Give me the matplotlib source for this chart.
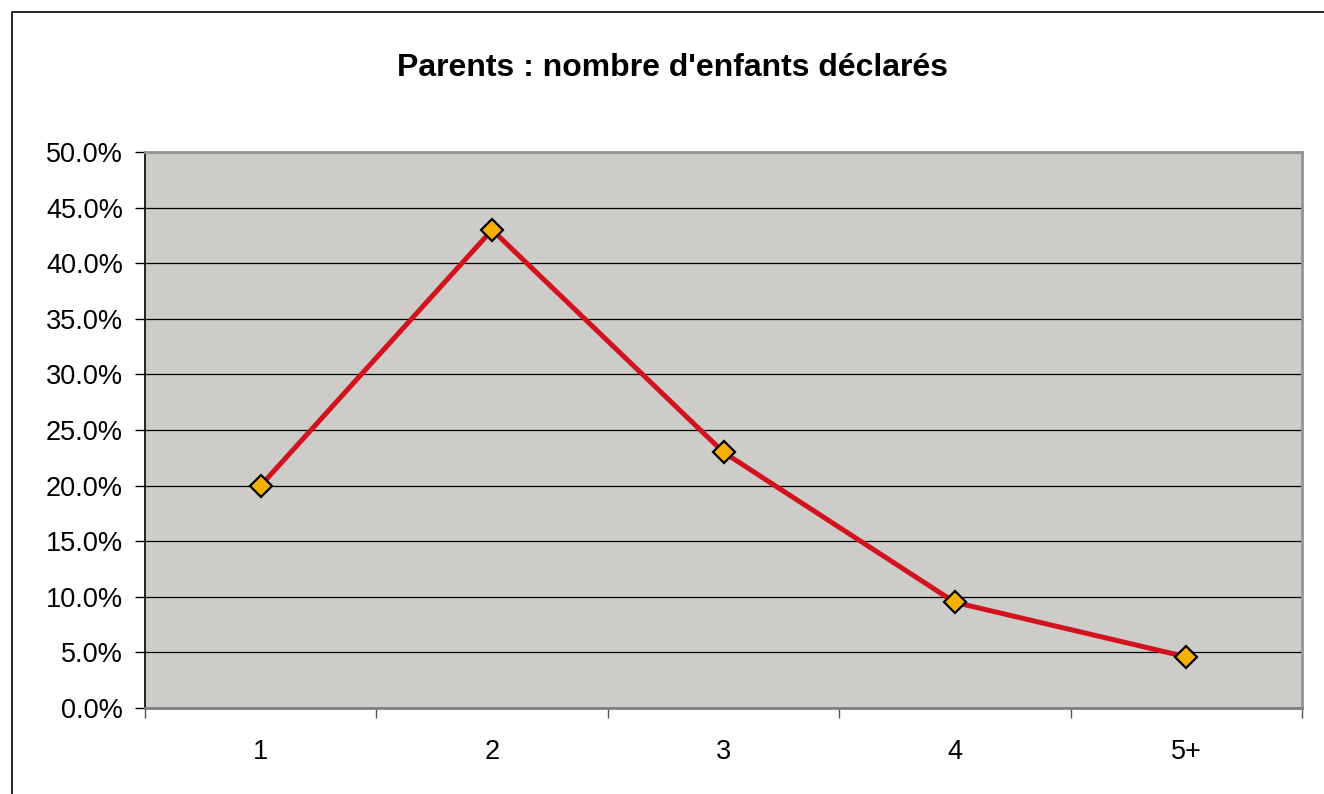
import matplotlib
matplotlib.use("Agg")
import matplotlib.pyplot as plt
from matplotlib.patches import Rectangle
from matplotlib.ticker import FuncFormatter, FixedLocator

categories = ["1", "2", "3", "4", "5+"]
values = [20.0, 43.0, 23.0, 9.5, 4.6]
title = "Parents : nombre d'enfants déclarés"

plt.rcParams['font.family'] = ['Liberation Sans', 'DejaVu Sans']

fig = plt.figure(figsize=(13.24, 7.94), dpi=100)
fig.patch.set_facecolor('white')

# outer chart border
W, H = 1324, 794
fig.patches.append(Rectangle((12 / W, -0.1), 1.2, (794 - 12) / H + 0.1,
                             transform=fig.transFigure, fill=False,
                             edgecolor='black', linewidth=1.2, zorder=0))

ax = fig.add_axes([145 / W, (794 - 708) / H, (1302 - 145) / W, (708 - 152) / H])
ax.set_facecolor('#CECCC8')

x = list(range(len(categories)))
ax.plot(x, values, color='#D2121E', linewidth=3.6, marker='D', markersize=11,
        markerfacecolor='#F5B000', markeredgecolor='black', markeredgewidth=1.6,
        zorder=3, clip_on=False)

ax.set_xlim(-0.5, len(categories) - 0.5)
ax.set_ylim(0, 50)
ax.yaxis.set_major_locator(FixedLocator([i * 5 for i in range(11)]))
ax.yaxis.set_major_formatter(FuncFormatter(lambda v, p: f"{v:.1f}%"))
ax.grid(axis='y', color='black', linewidth=0.9, zorder=1)
ax.set_axisbelow(True)

ax.set_xticks(x)
ax.set_xticklabels(categories)
ax.set_xticks([i - 0.5 for i in range(len(categories) + 1)], minor=True)
ax.tick_params(axis='x', which='major', length=0, pad=22, labelsize=19.5)
ax.tick_params(axis='x', which='minor', length=7, width=1, color='#555555')
ax.tick_params(axis='y', which='major', length=7, width=1, labelsize=19.5, pad=9)

for side in ['top', 'right']:
    ax.spines[side].set_color('#959590')
    ax.spines[side].set_linewidth(2)
ax.spines['bottom'].set_color('#808080')
ax.spines['bottom'].set_linewidth(2)
ax.spines['left'].set_color('black')
ax.spines['left'].set_linewidth(1.2)

fig.text((395 + 950) / 2 / W, 1 - 68 / H, title, ha='center', va='center',
         fontsize=23, fontweight='bold')

fig.savefig("out.png", dpi=100)
